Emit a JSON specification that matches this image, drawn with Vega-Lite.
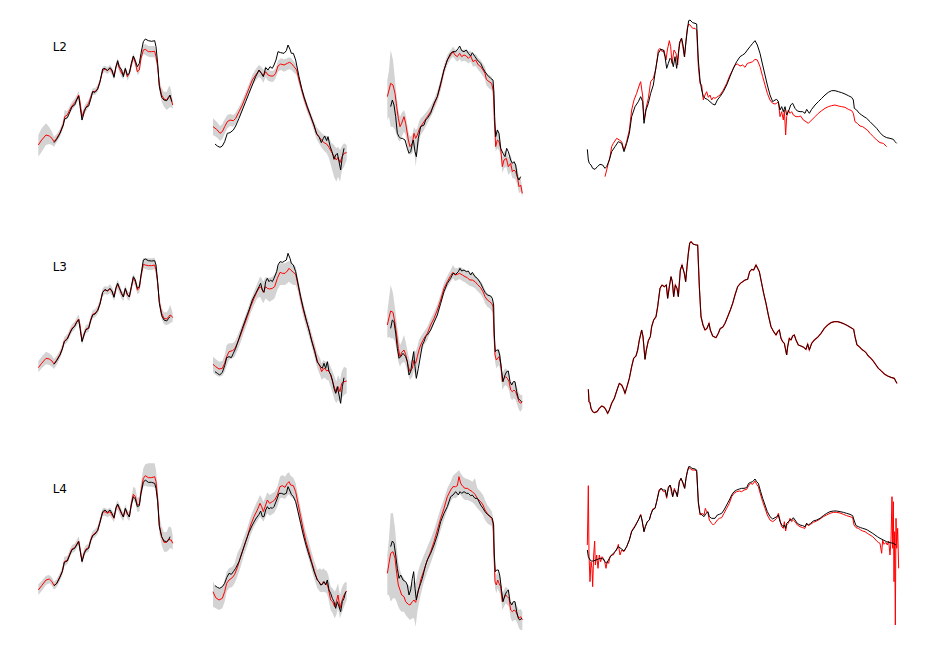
{
"$schema":"https://vega.github.io/schema/vega-lite/v6.json",
"padding":{"left":36,"top":17,"right":0,"bottom":0},
"background":"white",
"config":{"view":{"stroke":null},"axis":{"disable":true},"text":{"font":"DejaVu Sans"}},
"datasets":{
"r11":[{"x":25,"y":375},{"x":35,"y":360},{"x":48,"y":345},{"x":58,"y":348},{"x":66,"y":355},{"x":72,"y":365},{"x":80,"y":355},{"x":90,"y":338},{"x":100,"y":312},{"x":104,"y":290},{"x":112,"y":285},{"x":120,"y":268},{"x":126,"y":258},{"x":134,"y":248},{"x":140,"y":238},{"x":146,"y":225},{"x":150,"y":245},{"x":156,"y":290},{"x":163,"y":270},{"x":168,"y":262},{"x":176,"y":250},{"x":182,"y":232},{"x":188,"y":215},{"x":195,"y":215},{"x":203,"y":205},{"x":210,"y":185},{"x":218,"y":152},{"x":225,"y":147},{"x":232,"y":152},{"x":240,"y":145},{"x":246,"y":155},{"x":252,"y":168},{"x":258,"y":140},{"x":263,"y":128},{"x":268,"y":145},{"x":275,"y":160},{"x":280,"y":165},{"x":286,"y":148},{"x":292,"y":170},{"x":298,"y":160},{"x":304,"y":135},{"x":310,"y":112},{"x":316,"y":128},{"x":322,"y":155},{"x":328,"y":150},{"x":333,"y":115},{"x":340,"y":90},{"x":346,"y":88},{"x":355,"y":95},{"x":365,"y":95},{"x":374,"y":94},{"x":378,"y":110},{"x":383,"y":140},{"x":388,"y":195},{"x":395,"y":225},{"x":402,"y":237},{"x":410,"y":240},{"x":416,"y":230},{"x":420,"y":228},{"x":424,"y":238},{"x":428,"y":255}],
"k11":[{"x":72,"y":368},{"x":80,"y":358},{"x":90,"y":340},{"x":100,"y":315},{"x":104,"y":297},{"x":112,"y":293},{"x":120,"y":275},{"x":126,"y":260},{"x":134,"y":255},{"x":140,"y":240},{"x":146,"y":228},{"x":150,"y":258},{"x":156,"y":300},{"x":163,"y":275},{"x":168,"y":262},{"x":176,"y":258},{"x":182,"y":238},{"x":188,"y":215},{"x":195,"y":217},{"x":203,"y":208},{"x":210,"y":185},{"x":218,"y":147},{"x":225,"y":145},{"x":232,"y":152},{"x":240,"y":143},{"x":246,"y":150},{"x":252,"y":172},{"x":258,"y":140},{"x":263,"y":122},{"x":268,"y":140},{"x":275,"y":150},{"x":280,"y":170},{"x":286,"y":145},{"x":292,"y":165},{"x":298,"y":160},{"x":304,"y":130},{"x":310,"y":108},{"x":316,"y":122},{"x":322,"y":140},{"x":328,"y":130},{"x":333,"y":100},{"x":340,"y":65},{"x":346,"y":57},{"x":355,"y":62},{"x":365,"y":64},{"x":374,"y":62},{"x":378,"y":80},{"x":383,"y":130},{"x":388,"y":200},{"x":395,"y":232},{"x":402,"y":240},{"x":410,"y":242},{"x":416,"y":233},{"x":420,"y":225},{"x":425,"y":245}],
"b11":[{"x":25,"lo":345,"hi":410},{"x":35,"lo":325,"hi":395},{"x":48,"lo":310,"hi":375},{"x":58,"lo":322,"hi":372},{"x":66,"lo":335,"hi":375},{"x":72,"lo":350,"hi":380},{"x":80,"lo":343,"hi":367},{"x":90,"lo":326,"hi":350},{"x":100,"lo":300,"hi":324},{"x":104,"lo":270,"hi":300},{"x":112,"lo":273,"hi":297},{"x":120,"lo":256,"hi":280},{"x":126,"lo":246,"hi":270},{"x":134,"lo":236,"hi":260},{"x":140,"lo":226,"hi":250},{"x":146,"lo":212,"hi":238},{"x":150,"lo":235,"hi":260},{"x":156,"lo":282,"hi":305},{"x":163,"lo":258,"hi":282},{"x":168,"lo":250,"hi":274},{"x":176,"lo":240,"hi":262},{"x":182,"lo":222,"hi":244},{"x":188,"lo":205,"hi":225},{"x":195,"lo":205,"hi":225},{"x":203,"lo":195,"hi":215},{"x":210,"lo":175,"hi":195},{"x":218,"lo":140,"hi":160},{"x":225,"lo":137,"hi":157},{"x":232,"lo":142,"hi":162},{"x":240,"lo":135,"hi":155},{"x":246,"lo":143,"hi":165},{"x":252,"lo":158,"hi":180},{"x":258,"lo":130,"hi":150},{"x":263,"lo":115,"hi":138},{"x":268,"lo":132,"hi":155},{"x":275,"lo":145,"hi":172},{"x":280,"lo":155,"hi":178},{"x":286,"lo":138,"hi":158},{"x":292,"lo":158,"hi":182},{"x":298,"lo":150,"hi":170},{"x":304,"lo":122,"hi":145},{"x":310,"lo":100,"hi":122},{"x":316,"lo":115,"hi":138},{"x":322,"lo":140,"hi":165},{"x":328,"lo":135,"hi":160},{"x":333,"lo":100,"hi":125},{"x":340,"lo":75,"hi":102},{"x":346,"lo":72,"hi":105},{"x":355,"lo":78,"hi":110},{"x":365,"lo":78,"hi":112},{"x":374,"lo":78,"hi":112},{"x":378,"lo":95,"hi":125},{"x":383,"lo":125,"hi":150},{"x":388,"lo":180,"hi":210},{"x":395,"lo":205,"hi":245},{"x":402,"lo":215,"hi":260},{"x":410,"lo":215,"hi":270},{"x":416,"lo":200,"hi":265},{"x":420,"lo":198,"hi":262},{"x":424,"lo":215,"hi":262},{"x":428,"lo":240,"hi":268}],
"r12":[{"x":27,"y":320},{"x":38,"y":328},{"x":48,"y":340},{"x":55,"y":335},{"x":62,"y":320},{"x":70,"y":305},{"x":78,"y":300},{"x":88,"y":302},{"x":95,"y":295},{"x":105,"y":275},{"x":115,"y":255},{"x":125,"y":230},{"x":135,"y":205},{"x":145,"y":180},{"x":155,"y":165},{"x":165,"y":152},{"x":172,"y":158},{"x":178,"y":168},{"x":185,"y":155},{"x":192,"y":165},{"x":200,"y":168},{"x":208,"y":168},{"x":215,"y":160},{"x":222,"y":138},{"x":230,"y":132},{"x":240,"y":135},{"x":250,"y":130},{"x":256,"y":127},{"x":262,"y":130},{"x":270,"y":140},{"x":278,"y":150},{"x":285,"y":180},{"x":293,"y":210},{"x":300,"y":235},{"x":310,"y":265},{"x":320,"y":290},{"x":330,"y":318},{"x":338,"y":340},{"x":345,"y":350},{"x":352,"y":360},{"x":360,"y":368},{"x":368,"y":372},{"x":375,"y":382},{"x":382,"y":395},{"x":390,"y":408},{"x":397,"y":420},{"x":402,"y":412},{"x":408,"y":428},{"x":414,"y":410},{"x":420,"y":400},{"x":428,"y":398}],
"k12":[{"x":33,"y":372},{"x":40,"y":378},{"x":48,"y":382},{"x":55,"y":378},{"x":62,"y":365},{"x":70,"y":340},{"x":78,"y":338},{"x":88,"y":330},{"x":95,"y":318},{"x":105,"y":295},{"x":115,"y":270},{"x":125,"y":245},{"x":135,"y":220},{"x":145,"y":195},{"x":155,"y":170},{"x":165,"y":150},{"x":172,"y":160},{"x":178,"y":170},{"x":185,"y":143},{"x":192,"y":150},{"x":198,"y":140},{"x":205,"y":145},{"x":210,"y":135},{"x":216,"y":120},{"x":222,"y":95},{"x":230,"y":98},{"x":240,"y":100},{"x":247,"y":92},{"x":252,"y":75},{"x":258,"y":88},{"x":262,"y":100},{"x":268,"y":100},{"x":275,"y":120},{"x":285,"y":170},{"x":293,"y":205},{"x":300,"y":230},{"x":310,"y":260},{"x":320,"y":288},{"x":330,"y":315},{"x":338,"y":343},{"x":345,"y":350},{"x":352,"y":368},{"x":358,"y":355},{"x":362,"y":348},{"x":368,"y":362},{"x":372,"y":350},{"x":378,"y":378},{"x":384,"y":395},{"x":390,"y":418},{"x":395,"y":405},{"x":400,"y":400},{"x":405,"y":425},{"x":410,"y":450},{"x":415,"y":410},{"x":420,"y":385}],
"b12":[{"x":27,"lo":295,"hi":345},{"x":38,"lo":305,"hi":352},{"x":48,"lo":318,"hi":362},{"x":55,"lo":312,"hi":358},{"x":62,"lo":298,"hi":342},{"x":70,"lo":285,"hi":325},{"x":78,"lo":282,"hi":318},{"x":88,"lo":285,"hi":320},{"x":95,"lo":278,"hi":312},{"x":105,"lo":260,"hi":290},{"x":115,"lo":240,"hi":270},{"x":125,"lo":216,"hi":244},{"x":135,"lo":191,"hi":219},{"x":145,"lo":165,"hi":195},{"x":155,"lo":148,"hi":182},{"x":165,"lo":135,"hi":170},{"x":172,"lo":140,"hi":178},{"x":178,"lo":150,"hi":188},{"x":185,"lo":138,"hi":172},{"x":192,"lo":148,"hi":182},{"x":200,"lo":152,"hi":185},{"x":208,"lo":152,"hi":185},{"x":215,"lo":145,"hi":175},{"x":222,"lo":122,"hi":155},{"x":230,"lo":115,"hi":150},{"x":240,"lo":118,"hi":155},{"x":250,"lo":115,"hi":150},{"x":256,"lo":112,"hi":148},{"x":262,"lo":115,"hi":150},{"x":270,"lo":125,"hi":158},{"x":278,"lo":135,"hi":165},{"x":285,"lo":167,"hi":193},{"x":293,"lo":197,"hi":223},{"x":300,"lo":222,"hi":248},{"x":310,"lo":252,"hi":278},{"x":320,"lo":277,"hi":303},{"x":330,"lo":303,"hi":333},{"x":338,"lo":322,"hi":358},{"x":345,"lo":330,"hi":370},{"x":352,"lo":338,"hi":382},{"x":360,"lo":345,"hi":392},{"x":368,"lo":348,"hi":400},{"x":375,"lo":355,"hi":415},{"x":382,"lo":368,"hi":440},{"x":390,"lo":375,"hi":470},{"x":397,"lo":385,"hi":485},{"x":402,"lo":380,"hi":470},{"x":408,"lo":390,"hi":485},{"x":414,"lo":378,"hi":450},{"x":420,"lo":370,"hi":440},{"x":428,"lo":375,"hi":420}],
"r13":[{"x":25,"y":230},{"x":30,"y":210},{"x":35,"y":190},{"x":42,"y":195},{"x":48,"y":220},{"x":53,"y":260},{"x":58,"y":295},{"x":63,"y":320},{"x":68,"y":310},{"x":75,"y":290},{"x":80,"y":310},{"x":88,"y":360},{"x":93,"y":380},{"x":100,"y":370},{"x":105,"y":340},{"x":110,"y":355},{"x":115,"y":345},{"x":120,"y":330},{"x":125,"y":320},{"x":135,"y":305},{"x":145,"y":290},{"x":155,"y":275},{"x":165,"y":255},{"x":175,"y":230},{"x":185,"y":195},{"x":195,"y":150},{"x":205,"y":120},{"x":215,"y":105},{"x":222,"y":95},{"x":228,"y":105},{"x":235,"y":110},{"x":242,"y":100},{"x":248,"y":110},{"x":255,"y":105},{"x":262,"y":108},{"x":268,"y":115},{"x":275,"y":108},{"x":282,"y":125},{"x":290,"y":120},{"x":298,"y":135},{"x":305,"y":140},{"x":312,"y":150},{"x":318,"y":160},{"x":322,"y":178},{"x":330,"y":185},{"x":338,"y":190},{"x":343,"y":215},{"x":346,"y":300},{"x":350,"y":380},{"x":355,"y":360},{"x":360,"y":365},{"x":365,"y":385},{"x":370,"y":440},{"x":375,"y":420},{"x":382,"y":415},{"x":388,"y":440},{"x":395,"y":430},{"x":400,"y":455},{"x":405,"y":450},{"x":410,"y":455},{"x":415,"y":470},{"x":420,"y":500},{"x":425,"y":495},{"x":430,"y":520}],
"k13":[{"x":35,"y":260},{"x":40,"y":240},{"x":45,"y":255},{"x":50,"y":290},{"x":55,"y":340},{"x":60,"y":350},{"x":65,"y":355},{"x":70,"y":355},{"x":78,"y":360},{"x":85,"y":385},{"x":90,"y":400},{"x":95,"y":395},{"x":100,"y":370},{"x":103,"y":360},{"x":108,"y":395},{"x":112,"y":410},{"x":118,"y":355},{"x":125,"y":320},{"x":135,"y":315},{"x":140,"y":300},{"x":145,"y":295},{"x":155,"y":280},{"x":165,"y":250},{"x":175,"y":230},{"x":185,"y":190},{"x":195,"y":150},{"x":205,"y":120},{"x":215,"y":100},{"x":222,"y":95},{"x":230,"y":95},{"x":238,"y":85},{"x":242,"y":78},{"x":248,"y":92},{"x":255,"y":95},{"x":262,"y":90},{"x":268,"y":100},{"x":275,"y":108},{"x":280,"y":98},{"x":288,"y":110},{"x":295,"y":120},{"x":305,"y":130},{"x":312,"y":145},{"x":318,"y":155},{"x":325,"y":165},{"x":335,"y":175},{"x":342,"y":180},{"x":345,"y":220},{"x":347,"y":290},{"x":350,"y":350},{"x":355,"y":330},{"x":360,"y":340},{"x":365,"y":385},{"x":372,"y":400},{"x":378,"y":410},{"x":383,"y":385},{"x":388,"y":395},{"x":395,"y":420},{"x":400,"y":430},{"x":405,"y":425},{"x":410,"y":435},{"x":415,"y":470},{"x":420,"y":480},{"x":425,"y":470}],
"b13":[{"x":25,"lo":180,"hi":300},{"x":30,"lo":150,"hi":290},{"x":35,"lo":90,"hi":320},{"x":42,"lo":120,"hi":320},{"x":48,"lo":180,"hi":330},{"x":53,"lo":230,"hi":345},{"x":58,"lo":270,"hi":360},{"x":63,"lo":290,"hi":365},{"x":68,"lo":280,"hi":350},{"x":75,"lo":270,"hi":335},{"x":80,"lo":285,"hi":345},{"x":88,"lo":335,"hi":395},{"x":93,"lo":350,"hi":405},{"x":100,"lo":345,"hi":400},{"x":105,"lo":320,"hi":380},{"x":110,"lo":330,"hi":440},{"x":115,"lo":325,"hi":395},{"x":120,"lo":305,"hi":370},{"x":125,"lo":295,"hi":345},{"x":135,"lo":285,"hi":330},{"x":145,"lo":272,"hi":310},{"x":155,"lo":258,"hi":292},{"x":165,"lo":238,"hi":270},{"x":175,"lo":212,"hi":246},{"x":185,"lo":178,"hi":212},{"x":195,"lo":135,"hi":165},{"x":205,"lo":105,"hi":135},{"x":215,"lo":90,"hi":118},{"x":222,"lo":80,"hi":110},{"x":228,"lo":88,"hi":118},{"x":235,"lo":92,"hi":125},{"x":242,"lo":85,"hi":118},{"x":248,"lo":92,"hi":125},{"x":255,"lo":88,"hi":122},{"x":262,"lo":90,"hi":125},{"x":268,"lo":95,"hi":130},{"x":275,"lo":92,"hi":125},{"x":282,"lo":105,"hi":140},{"x":290,"lo":102,"hi":138},{"x":298,"lo":115,"hi":150},{"x":305,"lo":120,"hi":158},{"x":312,"lo":132,"hi":168},{"x":318,"lo":140,"hi":178},{"x":322,"lo":158,"hi":196},{"x":330,"lo":165,"hi":205},{"x":338,"lo":170,"hi":210},{"x":343,"lo":195,"hi":235},{"x":346,"lo":280,"hi":320},{"x":350,"lo":345,"hi":395},{"x":355,"lo":325,"hi":385},{"x":360,"lo":335,"hi":390},{"x":365,"lo":365,"hi":405},{"x":370,"lo":410,"hi":460},{"x":375,"lo":395,"hi":445},{"x":382,"lo":390,"hi":440},{"x":388,"lo":412,"hi":465},{"x":395,"lo":405,"hi":455},{"x":400,"lo":425,"hi":475},{"x":405,"lo":425,"hi":475},{"x":410,"lo":430,"hi":480},{"x":415,"lo":445,"hi":495},{"x":420,"lo":470,"hi":520},{"x":425,"lo":475,"hi":515},{"x":430,"lo":505,"hi":530}],
"k14":[{"x":22,"y":418},{"x":25,"y":450},{"x":28,"y":460},{"x":33,"y":465},{"x":38,"y":475},{"x":45,"y":478},{"x":52,"y":470},{"x":60,"y":463},{"x":68,"y":465},{"x":75,"y":475},{"x":80,"y":470},{"x":88,"y":450},{"x":95,"y":425},{"x":105,"y":410},{"x":115,"y":395},{"x":125,"y":400},{"x":132,"y":425},{"x":140,"y":400},{"x":148,"y":370},{"x":155,"y":320},{"x":165,"y":290},{"x":175,"y":275},{"x":182,"y":260},{"x":188,"y":275},{"x":192,"y":340},{"x":198,"y":300},{"x":205,"y":280},{"x":212,"y":250},{"x":220,"y":225},{"x":228,"y":170},{"x":235,"y":130},{"x":242,"y":118},{"x":250,"y":120},{"x":255,"y":140},{"x":260,"y":175},{"x":265,"y":160},{"x":270,"y":145},{"x":275,"y":150},{"x":280,"y":170},{"x":285,"y":140},{"x":290,"y":175},{"x":295,"y":130},{"x":300,"y":95},{"x":305,"y":85},{"x":310,"y":110},{"x":313,"y":140},{"x":318,"y":95},{"x":322,"y":60},{"x":326,"y":32},{"x":330,"y":30},{"x":338,"y":38},{"x":345,"y":40},{"x":350,"y":42},{"x":355,"y":150},{"x":360,"y":210},{"x":365,"y":240},{"x":370,"y":260},{"x":375,"y":265},{"x":382,"y":268},{"x":390,"y":275},{"x":398,"y":282},{"x":405,"y":285},{"x":412,"y":270},{"x":420,"y":260},{"x":430,"y":245},{"x":440,"y":225},{"x":450,"y":200},{"x":460,"y":175},{"x":470,"y":155},{"x":480,"y":140},{"x":488,"y":135},{"x":495,"y":130},{"x":502,"y":120},{"x":510,"y":110},{"x":518,"y":100},{"x":525,"y":92},{"x":532,"y":105},{"x":540,"y":130},{"x":548,"y":165},{"x":555,"y":195},{"x":562,"y":225},{"x":570,"y":255},{"x":578,"y":275},{"x":585,"y":270},{"x":590,"y":268},{"x":595,"y":275},{"x":600,"y":300},{"x":605,"y":290},{"x":610,"y":305},{"x":615,"y":290},{"x":620,"y":315},{"x":627,"y":300},{"x":632,"y":285},{"x":638,"y":280},{"x":645,"y":295},{"x":652,"y":303},{"x":660,"y":305},{"x":668,"y":305},{"x":675,"y":310},{"x":680,"y":298},{"x":688,"y":310},{"x":695,"y":298},{"x":705,"y":285},{"x":715,"y":275},{"x":725,"y":265},{"x":735,"y":255},{"x":745,"y":247},{"x":755,"y":242},{"x":765,"y":242},{"x":775,"y":245},{"x":785,"y":248},{"x":795,"y":252},{"x":805,"y":257},{"x":815,"y":262},{"x":820,"y":270},{"x":823,"y":295},{"x":830,"y":300},{"x":838,"y":310},{"x":845,"y":315},{"x":852,"y":320},{"x":860,"y":325},{"x":870,"y":335},{"x":880,"y":345},{"x":890,"y":355},{"x":900,"y":368},{"x":910,"y":378},{"x":920,"y":383},{"x":930,"y":385},{"x":940,"y":388},{"x":945,"y":395},{"x":950,"y":400}],
"r14":[{"x":75,"y":500},{"x":80,"y":480},{"x":85,"y":460},{"x":90,"y":440},{"x":95,"y":410},{"x":100,"y":400},{"x":110,"y":385},{"x":118,"y":390},{"x":125,"y":395},{"x":132,"y":420},{"x":140,"y":395},{"x":148,"y":360},{"x":155,"y":300},{"x":162,"y":270},{"x":170,"y":250},{"x":178,"y":225},{"x":182,"y":215},{"x":188,"y":258},{"x":192,"y":330},{"x":198,"y":295},{"x":205,"y":265},{"x":212,"y":215},{"x":220,"y":205},{"x":228,"y":175},{"x":235,"y":120},{"x":240,"y":115},{"x":246,"y":125},{"x":252,"y":120},{"x":258,"y":150},{"x":262,"y":120},{"x":268,"y":92},{"x":272,"y":110},{"x":276,"y":160},{"x":282,"y":120},{"x":288,"y":130},{"x":293,"y":165},{"x":298,"y":100},{"x":304,"y":85},{"x":310,"y":120},{"x":314,"y":140},{"x":318,"y":90},{"x":322,"y":55},{"x":326,"y":42},{"x":330,"y":45},{"x":338,"y":55},{"x":345,"y":55},{"x":350,"y":60},{"x":355,"y":170},{"x":360,"y":220},{"x":365,"y":225},{"x":370,"y":270},{"x":375,"y":255},{"x":380,"y":245},{"x":385,"y":262},{"x":390,"y":255},{"x":395,"y":270},{"x":400,"y":262},{"x":405,"y":265},{"x":410,"y":262},{"x":420,"y":255},{"x":430,"y":240},{"x":440,"y":220},{"x":450,"y":195},{"x":458,"y":180},{"x":465,"y":165},{"x":472,"y":162},{"x":480,"y":168},{"x":488,"y":165},{"x":495,"y":172},{"x":502,"y":160},{"x":510,"y":158},{"x":518,"y":155},{"x":525,"y":148},{"x":532,"y":150},{"x":540,"y":170},{"x":548,"y":200},{"x":555,"y":225},{"x":562,"y":250},{"x":570,"y":270},{"x":578,"y":280},{"x":585,"y":282},{"x":590,"y":280},{"x":595,"y":275},{"x":600,"y":320},{"x":605,"y":305},{"x":610,"y":330},{"x":613,"y":300},{"x":617,"y":375},{"x":620,"y":320},{"x":625,"y":300},{"x":630,"y":310},{"x":635,"y":305},{"x":640,"y":315},{"x":648,"y":320},{"x":655,"y":320},{"x":662,"y":318},{"x":670,"y":330},{"x":678,"y":335},{"x":685,"y":340},{"x":695,"y":330},{"x":705,"y":320},{"x":715,"y":310},{"x":725,"y":302},{"x":735,"y":295},{"x":745,"y":290},{"x":755,"y":287},{"x":765,"y":285},{"x":775,"y":288},{"x":785,"y":290},{"x":795,"y":292},{"x":805,"y":298},{"x":815,"y":302},{"x":820,"y":310},{"x":825,"y":335},{"x":832,"y":340},{"x":840,"y":348},{"x":848,"y":350},{"x":855,"y":355},{"x":862,"y":360},{"x":870,"y":370},{"x":880,"y":380},{"x":890,"y":390},{"x":900,"y":398},{"x":910,"y":400},{"x":915,"y":405},{"x":920,"y":410}],
"r21":[{"x":25,"y":398},{"x":35,"y":385},{"x":48,"y":370},{"x":58,"y":372},{"x":66,"y":378},{"x":72,"y":387},{"x":80,"y":375},{"x":90,"y":358},{"x":97,"y":340},{"x":103,"y":318},{"x":112,"y":310},{"x":120,"y":292},{"x":126,"y":280},{"x":134,"y":272},{"x":140,"y":260},{"x":146,"y":252},{"x":150,"y":270},{"x":156,"y":318},{"x":163,"y":295},{"x":168,"y":282},{"x":176,"y":278},{"x":182,"y":255},{"x":188,"y":238},{"x":195,"y":235},{"x":203,"y":225},{"x":210,"y":205},{"x":218,"y":172},{"x":225,"y":165},{"x":232,"y":168},{"x":240,"y":162},{"x":246,"y":170},{"x":252,"y":185},{"x":258,"y":160},{"x":263,"y":148},{"x":268,"y":160},{"x":275,"y":178},{"x":280,"y":185},{"x":286,"y":162},{"x":292,"y":180},{"x":298,"y":185},{"x":304,"y":158},{"x":310,"y":130},{"x":316,"y":140},{"x":322,"y":165},{"x":328,"y":160},{"x":333,"y":125},{"x":340,"y":88},{"x":346,"y":90},{"x":355,"y":92},{"x":365,"y":92},{"x":374,"y":90},{"x":378,"y":105},{"x":383,"y":145},{"x":388,"y":200},{"x":395,"y":235},{"x":402,"y":250},{"x":410,"y":252},{"x":416,"y":245},{"x":420,"y":240},{"x":424,"y":242},{"x":428,"y":248}],
"k21":[{"x":72,"y":388},{"x":80,"y":377},{"x":90,"y":360},{"x":97,"y":342},{"x":103,"y":320},{"x":112,"y":312},{"x":120,"y":294},{"x":126,"y":282},{"x":134,"y":274},{"x":140,"y":262},{"x":146,"y":254},{"x":150,"y":280},{"x":156,"y":320},{"x":163,"y":297},{"x":168,"y":284},{"x":176,"y":280},{"x":182,"y":257},{"x":188,"y":240},{"x":195,"y":237},{"x":203,"y":227},{"x":210,"y":207},{"x":218,"y":172},{"x":225,"y":163},{"x":232,"y":168},{"x":240,"y":160},{"x":246,"y":168},{"x":252,"y":187},{"x":258,"y":158},{"x":263,"y":145},{"x":268,"y":158},{"x":275,"y":175},{"x":280,"y":186},{"x":286,"y":160},{"x":292,"y":178},{"x":298,"y":186},{"x":304,"y":155},{"x":310,"y":125},{"x":316,"y":135},{"x":322,"y":160},{"x":328,"y":155},{"x":333,"y":120},{"x":340,"y":75},{"x":346,"y":72},{"x":355,"y":77},{"x":365,"y":78},{"x":374,"y":77},{"x":378,"y":90},{"x":383,"y":140},{"x":388,"y":205},{"x":395,"y":242},{"x":402,"y":255},{"x":410,"y":258},{"x":416,"y":250},{"x":420,"y":245}],
"b21":[{"x":25,"lo":378,"hi":412},{"x":35,"lo":365,"hi":400},{"x":48,"lo":350,"hi":388},{"x":58,"lo":355,"hi":390},{"x":66,"lo":362,"hi":395},{"x":72,"lo":372,"hi":402},{"x":80,"lo":362,"hi":390},{"x":90,"lo":346,"hi":370},{"x":97,"lo":328,"hi":352},{"x":103,"lo":306,"hi":330},{"x":112,"lo":298,"hi":322},{"x":120,"lo":280,"hi":304},{"x":126,"lo":268,"hi":292},{"x":134,"lo":260,"hi":284},{"x":140,"lo":248,"hi":272},{"x":146,"lo":238,"hi":264},{"x":150,"lo":258,"hi":282},{"x":156,"lo":305,"hi":330},{"x":163,"lo":283,"hi":307},{"x":168,"lo":270,"hi":294},{"x":176,"lo":266,"hi":290},{"x":182,"lo":243,"hi":267},{"x":188,"lo":226,"hi":250},{"x":195,"lo":223,"hi":247},{"x":203,"lo":213,"hi":237},{"x":210,"lo":193,"hi":217},{"x":218,"lo":160,"hi":184},{"x":225,"lo":153,"hi":177},{"x":232,"lo":156,"hi":180},{"x":240,"lo":148,"hi":174},{"x":246,"lo":156,"hi":182},{"x":252,"lo":172,"hi":198},{"x":258,"lo":146,"hi":172},{"x":263,"lo":134,"hi":162},{"x":268,"lo":146,"hi":174},{"x":275,"lo":165,"hi":192},{"x":280,"lo":172,"hi":198},{"x":286,"lo":149,"hi":175},{"x":292,"lo":167,"hi":193},{"x":298,"lo":172,"hi":198},{"x":304,"lo":145,"hi":171},{"x":310,"lo":118,"hi":142},{"x":316,"lo":127,"hi":153},{"x":322,"lo":152,"hi":178},{"x":328,"lo":147,"hi":173},{"x":333,"lo":112,"hi":138},{"x":340,"lo":70,"hi":100},{"x":346,"lo":68,"hi":102},{"x":355,"lo":70,"hi":105},{"x":365,"lo":70,"hi":105},{"x":374,"lo":68,"hi":102},{"x":378,"lo":85,"hi":118},{"x":383,"lo":130,"hi":160},{"x":388,"lo":185,"hi":215},{"x":395,"lo":220,"hi":252},{"x":402,"lo":232,"hi":268},{"x":410,"lo":232,"hi":270},{"x":416,"lo":222,"hi":268},{"x":420,"lo":210,"hi":265},{"x":424,"lo":220,"hi":262},{"x":428,"lo":235,"hi":262}],
"r22":[{"x":27,"y":388},{"x":35,"y":395},{"x":45,"y":402},{"x":55,"y":400},{"x":62,"y":385},{"x":68,"y":365},{"x":75,"y":350},{"x":85,"y":347},{"x":92,"y":342},{"x":100,"y":325},{"x":110,"y":300},{"x":120,"y":272},{"x":130,"y":245},{"x":140,"y":215},{"x":150,"y":190},{"x":160,"y":168},{"x":168,"y":155},{"x":173,"y":160},{"x":178,"y":172},{"x":185,"y":155},{"x":190,"y":160},{"x":197,"y":162},{"x":205,"y":160},{"x":212,"y":155},{"x":220,"y":130},{"x":228,"y":112},{"x":235,"y":115},{"x":243,"y":115},{"x":250,"y":108},{"x":255,"y":100},{"x":260,"y":105},{"x":268,"y":112},{"x":275,"y":118},{"x":282,"y":150},{"x":290,"y":190},{"x":298,"y":225},{"x":306,"y":255},{"x":315,"y":285},{"x":323,"y":315},{"x":332,"y":345},{"x":340,"y":378},{"x":348,"y":395},{"x":353,"y":410},{"x":358,"y":402},{"x":363,"y":400},{"x":368,"y":408},{"x":373,"y":405},{"x":380,"y":420},{"x":386,"y":440},{"x":392,"y":460},{"x":397,"y":472},{"x":402,"y":455},{"x":408,"y":470},{"x":413,"y":445},{"x":420,"y":440},{"x":428,"y":438}],
"k22":[{"x":33,"y":410},{"x":40,"y":415},{"x":47,"y":420},{"x":55,"y":412},{"x":62,"y":392},{"x":68,"y":368},{"x":75,"y":365},{"x":82,"y":368},{"x":88,"y":355},{"x":95,"y":340},{"x":105,"y":310},{"x":115,"y":280},{"x":125,"y":252},{"x":135,"y":225},{"x":145,"y":195},{"x":155,"y":175},{"x":165,"y":155},{"x":170,"y":145},{"x":175,"y":165},{"x":180,"y":172},{"x":185,"y":140},{"x":190,"y":130},{"x":195,"y":140},{"x":200,"y":135},{"x":205,"y":140},{"x":210,"y":130},{"x":218,"y":110},{"x":222,"y":90},{"x":228,"y":80},{"x":235,"y":82},{"x":242,"y":78},{"x":247,"y":75},{"x":252,"y":55},{"x":258,"y":70},{"x":262,"y":85},{"x":268,"y":90},{"x":275,"y":110},{"x":282,"y":145},{"x":290,"y":185},{"x":298,"y":220},{"x":306,"y":252},{"x":315,"y":285},{"x":323,"y":318},{"x":332,"y":350},{"x":340,"y":382},{"x":345,"y":388},{"x":350,"y":395},{"x":355,"y":400},{"x":360,"y":385},{"x":365,"y":400},{"x":370,"y":380},{"x":375,"y":410},{"x":380,"y":418},{"x":385,"y":435},{"x":390,"y":460},{"x":395,"y":475},{"x":400,"y":455},{"x":405,"y":480},{"x":410,"y":505},{"x":415,"y":455},{"x":420,"y":428}],
"b22":[{"x":27,"lo":365,"hi":412},{"x":35,"lo":372,"hi":420},{"x":45,"lo":380,"hi":425},{"x":55,"lo":378,"hi":422},{"x":62,"lo":360,"hi":410},{"x":68,"lo":330,"hi":392},{"x":75,"lo":325,"hi":375},{"x":85,"lo":325,"hi":370},{"x":92,"lo":320,"hi":365},{"x":100,"lo":303,"hi":347},{"x":110,"lo":280,"hi":322},{"x":120,"lo":252,"hi":292},{"x":130,"lo":225,"hi":265},{"x":140,"lo":195,"hi":235},{"x":150,"lo":170,"hi":210},{"x":160,"lo":145,"hi":190},{"x":168,"lo":125,"hi":185},{"x":173,"lo":130,"hi":195},{"x":178,"lo":140,"hi":205},{"x":185,"lo":125,"hi":190},{"x":190,"lo":128,"hi":195},{"x":197,"lo":128,"hi":200},{"x":205,"lo":125,"hi":195},{"x":212,"lo":118,"hi":190},{"x":220,"lo":100,"hi":165},{"x":228,"lo":85,"hi":150},{"x":235,"lo":85,"hi":150},{"x":243,"lo":85,"hi":150},{"x":250,"lo":80,"hi":145},{"x":255,"lo":78,"hi":140},{"x":260,"lo":80,"hi":145},{"x":268,"lo":88,"hi":150},{"x":275,"lo":95,"hi":150},{"x":282,"lo":130,"hi":170},{"x":290,"lo":170,"hi":210},{"x":298,"lo":205,"hi":245},{"x":306,"lo":235,"hi":275},{"x":315,"lo":265,"hi":305},{"x":323,"lo":295,"hi":335},{"x":332,"lo":325,"hi":368},{"x":340,"lo":355,"hi":400},{"x":348,"lo":370,"hi":420},{"x":353,"lo":385,"hi":435},{"x":358,"lo":375,"hi":430},{"x":363,"lo":378,"hi":428},{"x":368,"lo":385,"hi":435},{"x":373,"lo":380,"hi":435},{"x":380,"lo":395,"hi":455},{"x":386,"lo":410,"hi":475},{"x":392,"lo":425,"hi":495},{"x":397,"lo":440,"hi":505},{"x":402,"lo":420,"hi":495},{"x":408,"lo":435,"hi":505},{"x":413,"lo":410,"hi":490},{"x":420,"lo":395,"hi":480},{"x":428,"lo":400,"hi":475}],
"r23":[{"x":25,"y":270},{"x":30,"y":248},{"x":35,"y":228},{"x":42,"y":232},{"x":48,"y":265},{"x":53,"y":300},{"x":58,"y":340},{"x":63,"y":365},{"x":68,"y":352},{"x":75,"y":345},{"x":80,"y":358},{"x":88,"y":395},{"x":93,"y":410},{"x":100,"y":400},{"x":105,"y":375},{"x":110,"y":385},{"x":115,"y":365},{"x":120,"y":345},{"x":125,"y":330},{"x":135,"y":310},{"x":145,"y":295},{"x":155,"y":270},{"x":165,"y":250},{"x":175,"y":225},{"x":185,"y":195},{"x":195,"y":160},{"x":205,"y":140},{"x":215,"y":122},{"x":222,"y":112},{"x":228,"y":120},{"x":235,"y":118},{"x":242,"y":115},{"x":250,"y":120},{"x":258,"y":125},{"x":265,"y":128},{"x":272,"y":135},{"x":280,"y":135},{"x":288,"y":140},{"x":295,"y":148},{"x":305,"y":158},{"x":312,"y":170},{"x":318,"y":185},{"x":325,"y":195},{"x":332,"y":200},{"x":338,"y":205},{"x":342,"y":215},{"x":345,"y":300},{"x":348,"y":360},{"x":352,"y":375},{"x":356,"y":370},{"x":360,"y":365},{"x":365,"y":385},{"x":370,"y":440},{"x":375,"y":430},{"x":380,"y":425},{"x":385,"y":430},{"x":390,"y":440},{"x":395,"y":465},{"x":400,"y":470},{"x":405,"y":465},{"x":410,"y":470},{"x":415,"y":485},{"x":420,"y":500},{"x":425,"y":505},{"x":430,"y":500}],
"k23":[{"x":35,"y":280},{"x":40,"y":255},{"x":45,"y":260},{"x":50,"y":295},{"x":55,"y":340},{"x":60,"y":370},{"x":65,"y":365},{"x":72,"y":355},{"x":80,"y":365},{"x":85,"y":380},{"x":90,"y":420},{"x":95,"y":410},{"x":100,"y":375},{"x":104,"y":350},{"x":108,"y":395},{"x":112,"y":430},{"x":118,"y":400},{"x":125,"y":360},{"x":130,"y":330},{"x":135,"y":320},{"x":140,"y":305},{"x":145,"y":300},{"x":155,"y":285},{"x":165,"y":262},{"x":175,"y":240},{"x":185,"y":205},{"x":195,"y":170},{"x":205,"y":145},{"x":215,"y":130},{"x":222,"y":115},{"x":230,"y":118},{"x":238,"y":110},{"x":243,"y":100},{"x":248,"y":108},{"x":255,"y":105},{"x":262,"y":110},{"x":268,"y":108},{"x":275,"y":120},{"x":280,"y":112},{"x":288,"y":125},{"x":295,"y":130},{"x":305,"y":145},{"x":312,"y":160},{"x":318,"y":172},{"x":325,"y":180},{"x":335,"y":183},{"x":340,"y":190},{"x":344,"y":210},{"x":346,"y":300},{"x":349,"y":350},{"x":353,"y":345},{"x":358,"y":345},{"x":362,"y":360},{"x":367,"y":400},{"x":372,"y":440},{"x":378,"y":420},{"x":383,"y":410},{"x":388,"y":408},{"x":393,"y":440},{"x":398,"y":450},{"x":403,"y":440},{"x":408,"y":440},{"x":413,"y":470},{"x":418,"y":490},{"x":422,"y":495},{"x":428,"y":500}],
"b23":[{"x":25,"lo":230,"hi":310},{"x":30,"lo":190,"hi":305},{"x":35,"lo":150,"hi":310},{"x":42,"lo":175,"hi":310},{"x":48,"lo":220,"hi":320},{"x":53,"lo":260,"hi":345},{"x":58,"lo":300,"hi":380},{"x":63,"lo":330,"hi":395},{"x":68,"lo":320,"hi":385},{"x":75,"lo":300,"hi":380},{"x":80,"lo":320,"hi":390},{"x":88,"lo":360,"hi":420},{"x":93,"lo":380,"hi":435},{"x":100,"lo":370,"hi":425},{"x":105,"lo":345,"hi":405},{"x":110,"lo":350,"hi":430},{"x":115,"lo":335,"hi":400},{"x":120,"lo":315,"hi":375},{"x":125,"lo":305,"hi":355},{"x":135,"lo":290,"hi":330},{"x":145,"lo":275,"hi":315},{"x":155,"lo":252,"hi":288},{"x":165,"lo":232,"hi":268},{"x":175,"lo":208,"hi":242},{"x":185,"lo":178,"hi":212},{"x":195,"lo":143,"hi":177},{"x":205,"lo":123,"hi":157},{"x":215,"lo":105,"hi":140},{"x":222,"lo":90,"hi":130},{"x":228,"lo":100,"hi":138},{"x":235,"lo":100,"hi":136},{"x":242,"lo":95,"hi":132},{"x":250,"lo":100,"hi":138},{"x":258,"lo":105,"hi":142},{"x":265,"lo":108,"hi":148},{"x":272,"lo":115,"hi":152},{"x":280,"lo":115,"hi":155},{"x":288,"lo":120,"hi":160},{"x":295,"lo":128,"hi":168},{"x":305,"lo":138,"hi":178},{"x":312,"lo":150,"hi":190},{"x":318,"lo":165,"hi":205},{"x":325,"lo":175,"hi":215},{"x":332,"lo":180,"hi":220},{"x":338,"lo":185,"hi":228},{"x":342,"lo":195,"hi":235},{"x":345,"lo":280,"hi":320},{"x":348,"lo":340,"hi":380},{"x":352,"lo":350,"hi":400},{"x":356,"lo":345,"hi":395},{"x":360,"lo":340,"hi":390},{"x":365,"lo":360,"hi":410},{"x":370,"lo":415,"hi":465},{"x":375,"lo":405,"hi":455},{"x":380,"lo":400,"hi":450},{"x":385,"lo":405,"hi":455},{"x":390,"lo":415,"hi":465},{"x":395,"lo":440,"hi":490},{"x":400,"lo":445,"hi":495},{"x":405,"lo":440,"hi":490},{"x":410,"lo":445,"hi":495},{"x":415,"lo":460,"hi":510},{"x":420,"lo":475,"hi":525},{"x":425,"lo":480,"hi":530},{"x":430,"lo":480,"hi":520}],
"k24":[{"x":22,"y":478},{"x":24,"y":515},{"x":27,"y":518},{"x":30,"y":535},{"x":35,"y":545},{"x":40,"y":548},{"x":48,"y":545},{"x":55,"y":535},{"x":62,"y":528},{"x":70,"y":532},{"x":75,"y":540},{"x":80,"y":550},{"x":85,"y":540},{"x":92,"y":520},{"x":100,"y":505},{"x":108,"y":480},{"x":115,"y":460},{"x":122,"y":465},{"x":128,"y":478},{"x":132,"y":490},{"x":138,"y":470},{"x":145,"y":445},{"x":152,"y":410},{"x":158,"y":385},{"x":165,"y":378},{"x":170,"y":360},{"x":175,"y":330},{"x":182,"y":300},{"x":186,"y":320},{"x":192,"y":388},{"x":196,"y":360},{"x":202,"y":332},{"x":208,"y":320},{"x":212,"y":290},{"x":218,"y":270},{"x":225,"y":260},{"x":230,"y":230},{"x":237,"y":175},{"x":243,"y":165},{"x":250,"y":170},{"x":256,"y":165},{"x":260,"y":205},{"x":265,"y":170},{"x":270,"y":140},{"x":274,"y":155},{"x":278,"y":200},{"x":283,"y":165},{"x":288,"y":175},{"x":292,"y":200},{"x":298,"y":120},{"x":303,"y":105},{"x":310,"y":130},{"x":314,"y":155},{"x":318,"y":110},{"x":322,"y":70},{"x":326,"y":40},{"x":330,"y":35},{"x":336,"y":42},{"x":345,"y":45},{"x":350,"y":45},{"x":355,"y":170},{"x":360,"y":260},{"x":366,"y":285},{"x":372,"y":300},{"x":378,"y":295},{"x":384,"y":280},{"x":388,"y":300},{"x":395,"y":318},{"x":405,"y":323},{"x":412,"y":310},{"x":418,"y":295},{"x":425,"y":292},{"x":432,"y":280},{"x":440,"y":260},{"x":448,"y":240},{"x":455,"y":220},{"x":462,"y":195},{"x":470,"y":170},{"x":478,"y":160},{"x":485,"y":155},{"x":492,"y":150},{"x":500,"y":148},{"x":506,"y":125},{"x":512,"y":118},{"x":518,"y":120},{"x":525,"y":105},{"x":530,"y":115},{"x":535,"y":125},{"x":542,"y":160},{"x":548,"y":190},{"x":555,"y":220},{"x":562,"y":255},{"x":570,"y":290},{"x":578,"y":305},{"x":585,"y":315},{"x":590,"y":305},{"x":595,"y":300},{"x":600,"y":325},{"x":605,"y":335},{"x":610,"y":340},{"x":613,"y":355},{"x":617,"y":375},{"x":620,"y":350},{"x":625,"y":325},{"x":630,"y":330},{"x":635,"y":318},{"x":640,"y":315},{"x":645,"y":330},{"x":652,"y":345},{"x":660,"y":348},{"x":668,"y":352},{"x":675,"y":358},{"x":680,"y":342},{"x":685,"y":360},{"x":692,"y":340},{"x":700,"y":330},{"x":710,"y":322},{"x":720,"y":310},{"x":730,"y":295},{"x":740,"y":285},{"x":750,"y":278},{"x":760,"y":275},{"x":770,"y":275},{"x":780,"y":278},{"x":790,"y":282},{"x":800,"y":287},{"x":810,"y":293},{"x":818,"y":298},{"x":822,"y":320},{"x":828,"y":345},{"x":835,"y":350},{"x":842,"y":358},{"x":848,"y":362},{"x":855,"y":368},{"x":862,"y":378},{"x":870,"y":385},{"x":878,"y":395},{"x":885,"y":405},{"x":892,"y":415},{"x":900,"y":422},{"x":910,"y":432},{"x":920,"y":438},{"x":930,"y":442},{"x":940,"y":445},{"x":945,"y":455},{"x":948,"y":460}],
"r31":[{"x":25,"y":405},{"x":35,"y":392},{"x":48,"y":375},{"x":58,"y":372},{"x":66,"y":380},{"x":72,"y":392},{"x":80,"y":385},{"x":90,"y":365},{"x":97,"y":348},{"x":103,"y":320},{"x":112,"y":315},{"x":120,"y":295},{"x":126,"y":282},{"x":134,"y":278},{"x":140,"y":268},{"x":146,"y":258},{"x":150,"y":280},{"x":156,"y":318},{"x":163,"y":292},{"x":168,"y":282},{"x":176,"y":278},{"x":182,"y":255},{"x":188,"y":240},{"x":195,"y":235},{"x":203,"y":225},{"x":210,"y":200},{"x":218,"y":172},{"x":225,"y":170},{"x":232,"y":175},{"x":240,"y":170},{"x":246,"y":180},{"x":252,"y":190},{"x":258,"y":160},{"x":263,"y":150},{"x":268,"y":162},{"x":275,"y":178},{"x":280,"y":185},{"x":286,"y":162},{"x":292,"y":178},{"x":298,"y":185},{"x":304,"y":145},{"x":310,"y":118},{"x":316,"y":125},{"x":322,"y":150},{"x":328,"y":148},{"x":333,"y":110},{"x":340,"y":70},{"x":346,"y":62},{"x":355,"y":68},{"x":365,"y":68},{"x":374,"y":65},{"x":378,"y":80},{"x":383,"y":130},{"x":388,"y":210},{"x":395,"y":245},{"x":402,"y":262},{"x":410,"y":262},{"x":416,"y":252},{"x":420,"y":255},{"x":424,"y":255},{"x":428,"y":265}],
"k31":[{"x":72,"y":392},{"x":80,"y":386},{"x":90,"y":366},{"x":97,"y":350},{"x":103,"y":322},{"x":112,"y":318},{"x":120,"y":298},{"x":126,"y":284},{"x":134,"y":280},{"x":140,"y":270},{"x":146,"y":260},{"x":150,"y":285},{"x":156,"y":320},{"x":163,"y":295},{"x":168,"y":285},{"x":176,"y":280},{"x":182,"y":257},{"x":188,"y":242},{"x":195,"y":237},{"x":203,"y":227},{"x":210,"y":202},{"x":218,"y":170},{"x":225,"y":165},{"x":232,"y":172},{"x":240,"y":165},{"x":246,"y":175},{"x":252,"y":188},{"x":258,"y":158},{"x":263,"y":147},{"x":268,"y":158},{"x":275,"y":175},{"x":280,"y":186},{"x":286,"y":160},{"x":292,"y":175},{"x":298,"y":186},{"x":304,"y":150},{"x":310,"y":125},{"x":316,"y":132},{"x":322,"y":155},{"x":328,"y":152},{"x":333,"y":115},{"x":340,"y":82},{"x":346,"y":75},{"x":355,"y":82},{"x":365,"y":82},{"x":374,"y":85},{"x":378,"y":100},{"x":383,"y":140},{"x":388,"y":215},{"x":395,"y":245},{"x":402,"y":258},{"x":410,"y":260},{"x":416,"y":255},{"x":420,"y":245}],
"b31":[{"x":25,"lo":388,"hi":420},{"x":35,"lo":378,"hi":408},{"x":48,"lo":362,"hi":390},{"x":58,"lo":360,"hi":385},{"x":66,"lo":368,"hi":392},{"x":72,"lo":380,"hi":404},{"x":80,"lo":373,"hi":397},{"x":90,"lo":353,"hi":377},{"x":97,"lo":336,"hi":360},{"x":103,"lo":305,"hi":335},{"x":112,"lo":303,"hi":327},{"x":120,"lo":283,"hi":307},{"x":126,"lo":270,"hi":294},{"x":134,"lo":266,"hi":290},{"x":140,"lo":256,"hi":280},{"x":146,"lo":244,"hi":270},{"x":150,"lo":265,"hi":292},{"x":156,"lo":305,"hi":330},{"x":163,"lo":280,"hi":304},{"x":168,"lo":270,"hi":294},{"x":176,"lo":266,"hi":290},{"x":182,"lo":243,"hi":267},{"x":188,"lo":228,"hi":252},{"x":195,"lo":223,"hi":247},{"x":203,"lo":213,"hi":237},{"x":210,"lo":188,"hi":212},{"x":218,"lo":160,"hi":184},{"x":225,"lo":158,"hi":182},{"x":232,"lo":163,"hi":187},{"x":240,"lo":158,"hi":182},{"x":246,"lo":166,"hi":192},{"x":252,"lo":176,"hi":202},{"x":258,"lo":146,"hi":172},{"x":263,"lo":136,"hi":164},{"x":268,"lo":148,"hi":176},{"x":275,"lo":164,"hi":192},{"x":280,"lo":172,"hi":198},{"x":286,"lo":148,"hi":176},{"x":292,"lo":165,"hi":191},{"x":298,"lo":172,"hi":198},{"x":304,"lo":128,"hi":162},{"x":310,"lo":95,"hi":135},{"x":316,"lo":100,"hi":145},{"x":322,"lo":128,"hi":170},{"x":328,"lo":125,"hi":170},{"x":333,"lo":85,"hi":130},{"x":340,"lo":40,"hi":95},{"x":346,"lo":28,"hi":92},{"x":355,"lo":25,"hi":95},{"x":365,"lo":25,"hi":95},{"x":374,"lo":25,"hi":98},{"x":378,"lo":45,"hi":110},{"x":383,"lo":100,"hi":155},{"x":388,"lo":185,"hi":235},{"x":395,"lo":215,"hi":270},{"x":402,"lo":232,"hi":290},{"x":410,"lo":230,"hi":290},{"x":416,"lo":215,"hi":285},{"x":420,"lo":215,"hi":280},{"x":424,"lo":220,"hi":280},{"x":428,"lo":240,"hi":285}],
"r32":[{"x":27,"y":410},{"x":35,"y":428},{"x":45,"y":435},{"x":55,"y":430},{"x":62,"y":410},{"x":68,"y":385},{"x":75,"y":375},{"x":85,"y":368},{"x":92,"y":358},{"x":100,"y":338},{"x":110,"y":305},{"x":120,"y":275},{"x":130,"y":245},{"x":140,"y":210},{"x":150,"y":185},{"x":160,"y":165},{"x":168,"y":145},{"x":173,"y":155},{"x":178,"y":170},{"x":185,"y":150},{"x":190,"y":135},{"x":197,"y":145},{"x":205,"y":140},{"x":212,"y":135},{"x":220,"y":120},{"x":228,"y":95},{"x":235,"y":92},{"x":243,"y":97},{"x":250,"y":85},{"x":255,"y":80},{"x":260,"y":90},{"x":268,"y":92},{"x":275,"y":110},{"x":282,"y":145},{"x":290,"y":185},{"x":298,"y":225},{"x":306,"y":260},{"x":315,"y":290},{"x":323,"y":320},{"x":332,"y":350},{"x":340,"y":375},{"x":348,"y":385},{"x":353,"y":390},{"x":358,"y":380},{"x":363,"y":385},{"x":368,"y":385},{"x":373,"y":400},{"x":380,"y":435},{"x":386,"y":440},{"x":392,"y":455},{"x":397,"y":440},{"x":402,"y":420},{"x":408,"y":460},{"x":413,"y":440},{"x":420,"y":420},{"x":428,"y":408}],
"k32":[{"x":33,"y":392},{"x":40,"y":397},{"x":47,"y":400},{"x":55,"y":395},{"x":62,"y":385},{"x":68,"y":368},{"x":75,"y":355},{"x":82,"y":358},{"x":88,"y":350},{"x":95,"y":340},{"x":105,"y":320},{"x":115,"y":290},{"x":125,"y":260},{"x":135,"y":232},{"x":145,"y":210},{"x":155,"y":192},{"x":165,"y":178},{"x":170,"y":168},{"x":175,"y":185},{"x":180,"y":185},{"x":185,"y":165},{"x":190,"y":155},{"x":195,"y":162},{"x":200,"y":158},{"x":205,"y":160},{"x":210,"y":155},{"x":218,"y":135},{"x":225,"y":115},{"x":232,"y":115},{"x":240,"y":118},{"x":247,"y":115},{"x":252,"y":95},{"x":258,"y":108},{"x":262,"y":118},{"x":268,"y":125},{"x":275,"y":140},{"x":282,"y":170},{"x":290,"y":205},{"x":298,"y":240},{"x":306,"y":270},{"x":315,"y":300},{"x":323,"y":325},{"x":332,"y":355},{"x":340,"y":375},{"x":345,"y":380},{"x":350,"y":390},{"x":355,"y":388},{"x":360,"y":380},{"x":365,"y":390},{"x":370,"y":375},{"x":375,"y":405},{"x":380,"y":415},{"x":385,"y":430},{"x":390,"y":440},{"x":395,"y":460},{"x":400,"y":440},{"x":405,"y":455},{"x":410,"y":470},{"x":415,"y":440},{"x":420,"y":430},{"x":425,"y":410}],
"b32":[{"x":27,"lo":380,"hi":455},{"x":35,"lo":395,"hi":460},{"x":45,"lo":400,"hi":465},{"x":55,"lo":395,"hi":460},{"x":62,"lo":375,"hi":440},{"x":68,"lo":350,"hi":410},{"x":75,"lo":340,"hi":400},{"x":85,"lo":335,"hi":395},{"x":92,"lo":325,"hi":385},{"x":100,"lo":295,"hi":365},{"x":110,"lo":275,"hi":335},{"x":120,"lo":245,"hi":300},{"x":130,"lo":218,"hi":272},{"x":140,"lo":185,"hi":240},{"x":150,"lo":160,"hi":215},{"x":160,"lo":138,"hi":198},{"x":168,"lo":120,"hi":185},{"x":173,"lo":128,"hi":192},{"x":178,"lo":140,"hi":200},{"x":185,"lo":125,"hi":185},{"x":190,"lo":112,"hi":175},{"x":197,"lo":120,"hi":182},{"x":205,"lo":115,"hi":178},{"x":212,"lo":110,"hi":172},{"x":220,"lo":95,"hi":155},{"x":228,"lo":65,"hi":130},{"x":235,"lo":60,"hi":128},{"x":243,"lo":65,"hi":132},{"x":250,"lo":55,"hi":122},{"x":255,"lo":52,"hi":118},{"x":260,"lo":62,"hi":125},{"x":268,"lo":68,"hi":130},{"x":275,"lo":85,"hi":145},{"x":282,"lo":120,"hi":178},{"x":290,"lo":160,"hi":215},{"x":298,"lo":198,"hi":252},{"x":306,"lo":232,"hi":285},{"x":315,"lo":262,"hi":315},{"x":323,"lo":292,"hi":345},{"x":332,"lo":322,"hi":375},{"x":340,"lo":345,"hi":400},{"x":348,"lo":340,"hi":410},{"x":353,"lo":345,"hi":412},{"x":358,"lo":340,"hi":410},{"x":363,"lo":345,"hi":412},{"x":368,"lo":348,"hi":415},{"x":373,"lo":360,"hi":430},{"x":380,"lo":395,"hi":465},{"x":386,"lo":400,"hi":475},{"x":392,"lo":410,"hi":490},{"x":397,"lo":400,"hi":480},{"x":402,"lo":385,"hi":460},{"x":408,"lo":420,"hi":490},{"x":413,"lo":400,"hi":475},{"x":420,"lo":385,"hi":455},{"x":428,"lo":380,"hi":435}],
"r33":[{"x":25,"y":355},{"x":30,"y":325},{"x":35,"y":295},{"x":42,"y":290},{"x":48,"y":310},{"x":53,"y":355},{"x":58,"y":390},{"x":63,"y":405},{"x":68,"y":420},{"x":75,"y":425},{"x":80,"y":440},{"x":88,"y":448},{"x":93,"y":450},{"x":100,"y":440},{"x":105,"y":435},{"x":110,"y":442},{"x":115,"y":420},{"x":120,"y":400},{"x":125,"y":375},{"x":135,"y":345},{"x":145,"y":315},{"x":155,"y":290},{"x":165,"y":260},{"x":175,"y":225},{"x":185,"y":190},{"x":195,"y":160},{"x":205,"y":125},{"x":215,"y":105},{"x":222,"y":95},{"x":230,"y":95},{"x":235,"y":92},{"x":240,"y":65},{"x":245,"y":85},{"x":252,"y":95},{"x":258,"y":100},{"x":265,"y":100},{"x":272,"y":105},{"x":280,"y":110},{"x":288,"y":118},{"x":295,"y":130},{"x":305,"y":140},{"x":312,"y":150},{"x":318,"y":165},{"x":325,"y":175},{"x":332,"y":185},{"x":338,"y":190},{"x":342,"y":205},{"x":345,"y":300},{"x":348,"y":380},{"x":352,"y":390},{"x":356,"y":375},{"x":360,"y":385},{"x":365,"y":395},{"x":370,"y":440},{"x":375,"y":430},{"x":380,"y":420},{"x":385,"y":425},{"x":390,"y":430},{"x":395,"y":465},{"x":400,"y":470},{"x":405,"y":465},{"x":410,"y":468},{"x":415,"y":480},{"x":420,"y":490},{"x":425,"y":485},{"x":430,"y":495}],
"k33":[{"x":35,"y":275},{"x":40,"y":258},{"x":45,"y":265},{"x":50,"y":300},{"x":55,"y":340},{"x":60,"y":370},{"x":65,"y":360},{"x":72,"y":375},{"x":80,"y":380},{"x":85,"y":390},{"x":90,"y":420},{"x":95,"y":405},{"x":100,"y":370},{"x":104,"y":350},{"x":108,"y":400},{"x":112,"y":435},{"x":118,"y":405},{"x":125,"y":385},{"x":130,"y":370},{"x":135,"y":350},{"x":140,"y":330},{"x":145,"y":315},{"x":155,"y":295},{"x":165,"y":270},{"x":175,"y":240},{"x":185,"y":200},{"x":195,"y":175},{"x":205,"y":155},{"x":215,"y":125},{"x":222,"y":120},{"x":230,"y":110},{"x":238,"y":120},{"x":243,"y":110},{"x":248,"y":115},{"x":255,"y":110},{"x":262,"y":115},{"x":268,"y":115},{"x":275,"y":122},{"x":280,"y":120},{"x":288,"y":130},{"x":295,"y":130},{"x":305,"y":150},{"x":312,"y":160},{"x":318,"y":170},{"x":325,"y":178},{"x":335,"y":185},{"x":340,"y":190},{"x":344,"y":210},{"x":346,"y":300},{"x":349,"y":350},{"x":353,"y":345},{"x":358,"y":345},{"x":362,"y":360},{"x":367,"y":400},{"x":372,"y":440},{"x":378,"y":420},{"x":383,"y":410},{"x":388,"y":405},{"x":393,"y":440},{"x":398,"y":450},{"x":403,"y":440},{"x":408,"y":440},{"x":413,"y":470},{"x":418,"y":490},{"x":422,"y":495},{"x":428,"y":490}],
"b33":[{"x":25,"lo":300,"hi":420},{"x":30,"lo":250,"hi":420},{"x":35,"lo":175,"hi":440},{"x":42,"lo":175,"hi":430},{"x":48,"lo":220,"hi":430},{"x":53,"lo":275,"hi":440},{"x":58,"lo":320,"hi":455},{"x":63,"lo":345,"hi":465},{"x":68,"lo":360,"hi":470},{"x":75,"lo":370,"hi":470},{"x":80,"lo":385,"hi":480},{"x":88,"lo":390,"hi":490},{"x":93,"lo":395,"hi":495},{"x":100,"lo":385,"hi":490},{"x":105,"lo":375,"hi":490},{"x":110,"lo":385,"hi":515},{"x":115,"lo":360,"hi":470},{"x":120,"lo":340,"hi":445},{"x":125,"lo":325,"hi":420},{"x":135,"lo":300,"hi":380},{"x":145,"lo":275,"hi":350},{"x":155,"lo":252,"hi":325},{"x":165,"lo":225,"hi":295},{"x":175,"lo":192,"hi":260},{"x":185,"lo":160,"hi":225},{"x":195,"lo":132,"hi":195},{"x":205,"lo":100,"hi":165},{"x":215,"lo":80,"hi":140},{"x":222,"lo":62,"hi":128},{"x":230,"lo":55,"hi":130},{"x":235,"lo":50,"hi":125},{"x":240,"lo":45,"hi":115},{"x":245,"lo":55,"hi":120},{"x":252,"lo":65,"hi":130},{"x":258,"lo":70,"hi":135},{"x":265,"lo":72,"hi":135},{"x":272,"lo":75,"hi":138},{"x":280,"lo":80,"hi":142},{"x":288,"lo":70,"hi":150},{"x":295,"lo":100,"hi":160},{"x":305,"lo":110,"hi":170},{"x":312,"lo":120,"hi":180},{"x":318,"lo":135,"hi":195},{"x":325,"lo":150,"hi":205},{"x":332,"lo":160,"hi":210},{"x":338,"lo":168,"hi":212},{"x":342,"lo":185,"hi":228},{"x":345,"lo":280,"hi":320},{"x":348,"lo":350,"hi":400},{"x":352,"lo":360,"hi":415},{"x":356,"lo":350,"hi":400},{"x":360,"lo":360,"hi":410},{"x":365,"lo":370,"hi":420},{"x":370,"lo":415,"hi":465},{"x":375,"lo":405,"hi":455},{"x":380,"lo":395,"hi":445},{"x":385,"lo":400,"hi":450},{"x":390,"lo":405,"hi":455},{"x":395,"lo":440,"hi":490},{"x":400,"lo":445,"hi":500},{"x":405,"lo":440,"hi":495},{"x":410,"lo":445,"hi":495},{"x":415,"lo":455,"hi":505},{"x":420,"lo":465,"hi":520},{"x":425,"lo":462,"hi":525},{"x":430,"lo":470,"hi":525}],
"k34":[{"x":22,"y":285},{"x":25,"y":305},{"x":30,"y":315},{"x":35,"y":318},{"x":40,"y":318},{"x":48,"y":315},{"x":55,"y":312},{"x":62,"y":310},{"x":70,"y":312},{"x":75,"y":320},{"x":80,"y":325},{"x":88,"y":310},{"x":95,"y":300},{"x":105,"y":290},{"x":115,"y":275},{"x":125,"y":282},{"x":132,"y":288},{"x":140,"y":275},{"x":148,"y":255},{"x":155,"y":230},{"x":165,"y":215},{"x":175,"y":195},{"x":182,"y":180},{"x":186,"y":195},{"x":192,"y":230},{"x":196,"y":215},{"x":202,"y":200},{"x":208,"y":195},{"x":212,"y":180},{"x":218,"y":165},{"x":225,"y":160},{"x":230,"y":140},{"x":237,"y":110},{"x":243,"y":100},{"x":250,"y":105},{"x":256,"y":105},{"x":260,"y":125},{"x":265,"y":100},{"x":270,"y":90},{"x":274,"y":100},{"x":278,"y":125},{"x":283,"y":105},{"x":288,"y":110},{"x":292,"y":125},{"x":298,"y":80},{"x":303,"y":70},{"x":310,"y":85},{"x":314,"y":100},{"x":318,"y":70},{"x":322,"y":50},{"x":326,"y":35},{"x":330,"y":35},{"x":336,"y":40},{"x":345,"y":42},{"x":350,"y":45},{"x":355,"y":140},{"x":360,"y":175},{"x":366,"y":180},{"x":372,"y":185},{"x":378,"y":175},{"x":384,"y":170},{"x":388,"y":185},{"x":395,"y":190},{"x":405,"y":190},{"x":412,"y":180},{"x":418,"y":178},{"x":425,"y":175},{"x":432,"y":165},{"x":440,"y":150},{"x":448,"y":135},{"x":455,"y":120},{"x":462,"y":110},{"x":470,"y":105},{"x":478,"y":102},{"x":485,"y":100},{"x":492,"y":100},{"x":500,"y":98},{"x":506,"y":85},{"x":512,"y":82},{"x":518,"y":80},{"x":525,"y":72},{"x":530,"y":80},{"x":535,"y":85},{"x":542,"y":110},{"x":548,"y":130},{"x":555,"y":150},{"x":562,"y":170},{"x":570,"y":185},{"x":578,"y":192},{"x":585,"y":188},{"x":590,"y":185},{"x":595,"y":180},{"x":600,"y":200},{"x":605,"y":210},{"x":610,"y":215},{"x":613,"y":210},{"x":617,"y":220},{"x":620,"y":205},{"x":625,"y":200},{"x":630,"y":195},{"x":635,"y":195},{"x":640,"y":188},{"x":645,"y":195},{"x":652,"y":205},{"x":660,"y":210},{"x":668,"y":212},{"x":675,"y":215},{"x":680,"y":205},{"x":685,"y":210},{"x":692,"y":205},{"x":700,"y":198},{"x":710,"y":195},{"x":720,"y":190},{"x":730,"y":182},{"x":740,"y":175},{"x":750,"y":170},{"x":760,"y":168},{"x":770,"y":168},{"x":780,"y":170},{"x":790,"y":172},{"x":800,"y":175},{"x":810,"y":178},{"x":818,"y":182},{"x":822,"y":195},{"x":828,"y":212},{"x":835,"y":215},{"x":842,"y":218},{"x":848,"y":220},{"x":855,"y":222},{"x":862,"y":225},{"x":870,"y":230},{"x":878,"y":235},{"x":885,"y":240},{"x":892,"y":245},{"x":900,"y":250},{"x":910,"y":255},{"x":920,"y":260},{"x":930,"y":263},{"x":940,"y":265},{"x":945,"y":268},{"x":948,"y":270}],
"r34":[{"x":22,"y":270},{"x":25,"y":92},{"x":27,"y":300},{"x":30,"y":380},{"x":33,"y":320},{"x":36,"y":340},{"x":38,"y":395},{"x":41,"y":300},{"x":44,"y":258},{"x":46,"y":330},{"x":50,"y":300},{"x":54,"y":340},{"x":58,"y":300},{"x":62,"y":320},{"x":66,"y":305},{"x":70,"y":310},{"x":74,"y":320},{"x":78,"y":340},{"x":82,"y":318},{"x":86,"y":325},{"x":90,"y":305},{"x":95,"y":300},{"x":100,"y":300},{"x":105,"y":290},{"x":110,"y":285},{"x":115,"y":268},{"x":120,"y":300},{"x":125,"y":285},{"x":132,"y":290},{"x":140,"y":275},{"x":148,"y":255},{"x":155,"y":228},{"x":165,"y":212},{"x":175,"y":195},{"x":182,"y":178},{"x":186,"y":195},{"x":192,"y":230},{"x":196,"y":215},{"x":202,"y":200},{"x":208,"y":195},{"x":212,"y":180},{"x":218,"y":162},{"x":225,"y":160},{"x":230,"y":140},{"x":237,"y":105},{"x":243,"y":100},{"x":250,"y":110},{"x":256,"y":110},{"x":260,"y":130},{"x":265,"y":95},{"x":270,"y":90},{"x":274,"y":110},{"x":278,"y":125},{"x":283,"y":100},{"x":288,"y":115},{"x":292,"y":125},{"x":298,"y":80},{"x":303,"y":70},{"x":310,"y":90},{"x":314,"y":100},{"x":318,"y":70},{"x":322,"y":50},{"x":326,"y":38},{"x":330,"y":40},{"x":336,"y":45},{"x":345,"y":45},{"x":350,"y":50},{"x":355,"y":145},{"x":360,"y":180},{"x":366,"y":175},{"x":372,"y":180},{"x":376,"y":160},{"x":380,"y":170},{"x":384,"y":175},{"x":388,"y":195},{"x":395,"y":205},{"x":400,"y":210},{"x":405,"y":205},{"x":412,"y":195},{"x":418,"y":190},{"x":425,"y":188},{"x":432,"y":175},{"x":440,"y":160},{"x":448,"y":145},{"x":455,"y":125},{"x":462,"y":115},{"x":470,"y":110},{"x":478,"y":108},{"x":485,"y":110},{"x":492,"y":105},{"x":500,"y":103},{"x":506,"y":92},{"x":512,"y":85},{"x":518,"y":88},{"x":525,"y":78},{"x":530,"y":88},{"x":535,"y":95},{"x":542,"y":120},{"x":548,"y":140},{"x":555,"y":160},{"x":562,"y":180},{"x":570,"y":195},{"x":578,"y":200},{"x":585,"y":195},{"x":590,"y":190},{"x":595,"y":175},{"x":600,"y":195},{"x":605,"y":215},{"x":610,"y":220},{"x":613,"y":200},{"x":617,"y":228},{"x":620,"y":210},{"x":625,"y":205},{"x":630,"y":190},{"x":635,"y":200},{"x":640,"y":195},{"x":645,"y":200},{"x":652,"y":210},{"x":660,"y":215},{"x":668,"y":218},{"x":675,"y":220},{"x":680,"y":205},{"x":685,"y":212},{"x":692,"y":208},{"x":700,"y":202},{"x":710,"y":198},{"x":720,"y":192},{"x":730,"y":185},{"x":740,"y":180},{"x":750,"y":175},{"x":760,"y":172},{"x":770,"y":172},{"x":780,"y":174},{"x":790,"y":178},{"x":800,"y":182},{"x":810,"y":185},{"x":818,"y":188},{"x":822,"y":210},{"x":828,"y":218},{"x":835,"y":220},{"x":842,"y":225},{"x":848,"y":228},{"x":855,"y":230},{"x":862,"y":235},{"x":870,"y":240},{"x":878,"y":245},{"x":885,"y":252},{"x":890,"y":258},{"x":895,"y":262},{"x":900,"y":265},{"x":905,"y":295},{"x":908,"y":255},{"x":912,"y":268},{"x":918,"y":262},{"x":922,"y":270},{"x":926,"y":258},{"x":930,"y":300},{"x":933,"y":255},{"x":936,"y":125},{"x":938,"y":280},{"x":940,"y":140},{"x":942,"y":380},{"x":944,"y":230},{"x":946,"y":510},{"x":948,"y":190},{"x":950,"y":280},{"x":953,"y":220},{"x":956,"y":340}]
},
"vconcat":[
{"hconcat":[
 {"hconcat":[
  {"width":135,"height":180,"layer":[
   {"data":{"name":"b11"},"mark":{"type":"area","color":"#d3d3d3"},"encoding":{"x":{"field":"x","type":"quantitative","scale":{"domain":[24,429],"nice":false,"zero":false}},"y":{"field":"lo","type":"quantitative","scale":{"domain":[-9,531],"nice":false,"zero":false,"reverse":true}},"y2":{"field":"hi"}}},
   {"data":{"name":"r11"},"mark":{"type":"line","color":"red","strokeWidth":1},"encoding":{"x":{"field":"x","type":"quantitative"},"y":{"field":"y","type":"quantitative"}}},
   {"data":{"name":"k11"},"mark":{"type":"line","color":"black","strokeWidth":1},"encoding":{"x":{"field":"x","type":"quantitative"},"y":{"field":"y","type":"quantitative"}}},
   {"data":{"values":[{"x":68,"y":93,"t":"L2"}]},"mark":{"type":"text","align":"left","baseline":"alphabetic","fontSize":12,"color":"black"},"encoding":{"x":{"field":"x","type":"quantitative"},"y":{"field":"y","type":"quantitative"},"text":{"field":"t"}}}
  ]},
  {"width":135,"height":180,"layer":[
   {"data":{"name":"b12"},"mark":{"type":"area","color":"#d3d3d3"},"encoding":{"x":{"field":"x","type":"quantitative","scale":{"domain":[24,429],"nice":false,"zero":false}},"y":{"field":"lo","type":"quantitative","scale":{"domain":[-9,531],"nice":false,"zero":false,"reverse":true}},"y2":{"field":"hi"}}},
   {"data":{"name":"r12"},"mark":{"type":"line","color":"red","strokeWidth":1},"encoding":{"x":{"field":"x","type":"quantitative"},"y":{"field":"y","type":"quantitative"}}},
   {"data":{"name":"k12"},"mark":{"type":"line","color":"black","strokeWidth":1},"encoding":{"x":{"field":"x","type":"quantitative"},"y":{"field":"y","type":"quantitative"}}}
  ]},
  {"width":135,"height":180,"layer":[
   {"data":{"name":"b13"},"mark":{"type":"area","color":"#d3d3d3"},"encoding":{"x":{"field":"x","type":"quantitative","scale":{"domain":[24,429],"nice":false,"zero":false}},"y":{"field":"lo","type":"quantitative","scale":{"domain":[-9,531],"nice":false,"zero":false,"reverse":true}},"y2":{"field":"hi"}}},
   {"data":{"name":"r13"},"mark":{"type":"line","color":"red","strokeWidth":1},"encoding":{"x":{"field":"x","type":"quantitative"},"y":{"field":"y","type":"quantitative"}}},
   {"data":{"name":"k13"},"mark":{"type":"line","color":"black","strokeWidth":1},"encoding":{"x":{"field":"x","type":"quantitative"},"y":{"field":"y","type":"quantitative"}}}
  ]}
 ],"spacing":36},
 {"width":310,"height":180,"layer":[
   {"data":{"name":"r14"},"mark":{"type":"line","color":"red","strokeWidth":1},"encoding":{"x":{"field":"x","type":"quantitative","scale":{"domain":[21,951],"nice":false,"zero":false}},"y":{"field":"y","type":"quantitative","scale":{"domain":[21,561],"nice":false,"zero":false,"reverse":true}}}},
   {"data":{"name":"k14"},"mark":{"type":"line","color":"black","strokeWidth":1},"encoding":{"x":{"field":"x","type":"quantitative"},"y":{"field":"y","type":"quantitative"}}}
 ]}
],"spacing":60},
{"hconcat":[
 {"hconcat":[
  {"width":135,"height":180,"layer":[
   {"data":{"name":"b21"},"mark":{"type":"area","color":"#d3d3d3"},"encoding":{"x":{"field":"x","type":"quantitative","scale":{"domain":[24,429],"nice":false,"zero":false}},"y":{"field":"lo","type":"quantitative","scale":{"domain":[12,552],"nice":false,"zero":false,"reverse":true}},"y2":{"field":"hi"}}},
   {"data":{"name":"r21"},"mark":{"type":"line","color":"red","strokeWidth":1},"encoding":{"x":{"field":"x","type":"quantitative"},"y":{"field":"y","type":"quantitative"}}},
   {"data":{"name":"k21"},"mark":{"type":"line","color":"black","strokeWidth":1},"encoding":{"x":{"field":"x","type":"quantitative"},"y":{"field":"y","type":"quantitative"}}},
   {"data":{"values":[{"x":68,"y":108,"t":"L3"}]},"mark":{"type":"text","align":"left","baseline":"alphabetic","fontSize":12,"color":"black"},"encoding":{"x":{"field":"x","type":"quantitative"},"y":{"field":"y","type":"quantitative"},"text":{"field":"t"}}}
  ]},
  {"width":135,"height":180,"layer":[
   {"data":{"name":"b22"},"mark":{"type":"area","color":"#d3d3d3"},"encoding":{"x":{"field":"x","type":"quantitative","scale":{"domain":[24,429],"nice":false,"zero":false}},"y":{"field":"lo","type":"quantitative","scale":{"domain":[12,552],"nice":false,"zero":false,"reverse":true}},"y2":{"field":"hi"}}},
   {"data":{"name":"r22"},"mark":{"type":"line","color":"red","strokeWidth":1},"encoding":{"x":{"field":"x","type":"quantitative"},"y":{"field":"y","type":"quantitative"}}},
   {"data":{"name":"k22"},"mark":{"type":"line","color":"black","strokeWidth":1},"encoding":{"x":{"field":"x","type":"quantitative"},"y":{"field":"y","type":"quantitative"}}}
  ]},
  {"width":135,"height":180,"layer":[
   {"data":{"name":"b23"},"mark":{"type":"area","color":"#d3d3d3"},"encoding":{"x":{"field":"x","type":"quantitative","scale":{"domain":[24,429],"nice":false,"zero":false}},"y":{"field":"lo","type":"quantitative","scale":{"domain":[12,552],"nice":false,"zero":false,"reverse":true}},"y2":{"field":"hi"}}},
   {"data":{"name":"r23"},"mark":{"type":"line","color":"red","strokeWidth":1},"encoding":{"x":{"field":"x","type":"quantitative"},"y":{"field":"y","type":"quantitative"}}},
   {"data":{"name":"k23"},"mark":{"type":"line","color":"black","strokeWidth":1},"encoding":{"x":{"field":"x","type":"quantitative"},"y":{"field":"y","type":"quantitative"}}}
  ]}
 ],"spacing":36},
 {"width":310,"height":180,"layer":[
   {"data":{"name":"k24"},"mark":{"type":"line","color":"red","strokeWidth":1.2},"encoding":{"x":{"field":"x","type":"quantitative","scale":{"domain":[21,951],"nice":false,"zero":false}},"y":{"field":"y","type":"quantitative","scale":{"domain":[27,567],"nice":false,"zero":false,"reverse":true}}}},
   {"data":{"name":"k24"},"mark":{"type":"line","color":"black","strokeWidth":1,"opacity":0.8},"encoding":{"x":{"field":"x","type":"quantitative"},"y":{"field":"y","type":"quantitative"}}}
 ]}
],"spacing":60},
{"hconcat":[
 {"hconcat":[
  {"width":135,"height":180,"layer":[
   {"data":{"name":"b31"},"mark":{"type":"area","color":"#d3d3d3"},"encoding":{"x":{"field":"x","type":"quantitative","scale":{"domain":[24,429],"nice":false,"zero":false}},"y":{"field":"lo","type":"quantitative","scale":{"domain":[18,558],"nice":false,"zero":false,"reverse":true}},"y2":{"field":"hi"}}},
   {"data":{"name":"r31"},"mark":{"type":"line","color":"red","strokeWidth":1},"encoding":{"x":{"field":"x","type":"quantitative"},"y":{"field":"y","type":"quantitative"}}},
   {"data":{"name":"k31"},"mark":{"type":"line","color":"black","strokeWidth":1},"encoding":{"x":{"field":"x","type":"quantitative"},"y":{"field":"y","type":"quantitative"}}},
   {"data":{"values":[{"x":68,"y":113,"t":"L4"}]},"mark":{"type":"text","align":"left","baseline":"alphabetic","fontSize":12,"color":"black"},"encoding":{"x":{"field":"x","type":"quantitative"},"y":{"field":"y","type":"quantitative"},"text":{"field":"t"}}}
  ]},
  {"width":135,"height":180,"layer":[
   {"data":{"name":"b32"},"mark":{"type":"area","color":"#d3d3d3"},"encoding":{"x":{"field":"x","type":"quantitative","scale":{"domain":[24,429],"nice":false,"zero":false}},"y":{"field":"lo","type":"quantitative","scale":{"domain":[18,558],"nice":false,"zero":false,"reverse":true}},"y2":{"field":"hi"}}},
   {"data":{"name":"r32"},"mark":{"type":"line","color":"red","strokeWidth":1},"encoding":{"x":{"field":"x","type":"quantitative"},"y":{"field":"y","type":"quantitative"}}},
   {"data":{"name":"k32"},"mark":{"type":"line","color":"black","strokeWidth":1},"encoding":{"x":{"field":"x","type":"quantitative"},"y":{"field":"y","type":"quantitative"}}}
  ]},
  {"width":135,"height":180,"layer":[
   {"data":{"name":"b33"},"mark":{"type":"area","color":"#d3d3d3"},"encoding":{"x":{"field":"x","type":"quantitative","scale":{"domain":[24,429],"nice":false,"zero":false}},"y":{"field":"lo","type":"quantitative","scale":{"domain":[18,558],"nice":false,"zero":false,"reverse":true}},"y2":{"field":"hi"}}},
   {"data":{"name":"r33"},"mark":{"type":"line","color":"red","strokeWidth":1},"encoding":{"x":{"field":"x","type":"quantitative"},"y":{"field":"y","type":"quantitative"}}},
   {"data":{"name":"k33"},"mark":{"type":"line","color":"black","strokeWidth":1},"encoding":{"x":{"field":"x","type":"quantitative"},"y":{"field":"y","type":"quantitative"}}}
  ]}
 ],"spacing":36},
 {"width":310,"height":180,"layer":[
   {"data":{"name":"r34"},"mark":{"type":"line","color":"red","strokeWidth":1},"encoding":{"x":{"field":"x","type":"quantitative","scale":{"domain":[21,951],"nice":false,"zero":false}},"y":{"field":"y","type":"quantitative","scale":{"domain":[18,558],"nice":false,"zero":false,"reverse":true}}}},
   {"data":{"name":"k34"},"mark":{"type":"line","color":"black","strokeWidth":1},"encoding":{"x":{"field":"x","type":"quantitative"},"y":{"field":"y","type":"quantitative"}}}
 ]}
],"spacing":60}
],
"spacing":42
}
